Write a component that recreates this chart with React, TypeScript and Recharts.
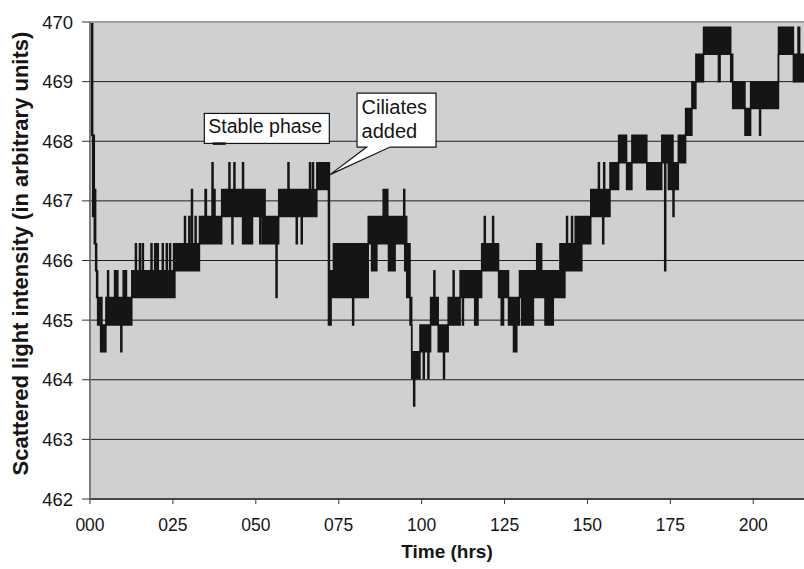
import {
  ComposedChart,
  Area,
  XAxis,
  YAxis,
  CartesianGrid,
  ReferenceDot,
  ReferenceLine,
} from "recharts";

// ─── Axes ────────────────────────────────────────────────────────────────────

const Y_TICKS = [462, 463, 464, 465, 466, 467, 468, 469, 470];
const X_TICKS = [0, 25, 50, 75, 100, 125, 150, 175, 200];
const X_TICK_LABELS = ["000", "025", "050", "075", "100", "125", "150", "175", "200"];

// ─── Signal ──────────────────────────────────────────────────────────────────
// Each row: [time (hrs), lowest level, highest level] held until the next row.
// The detector toggles between quantised levels, so the trace is a dense band.

const DECAY: [number, number, number][] = [
  [0, 468.1, 470.0],
  [0.8, 466.74, 468.1],
  [1.3, 466.28, 467.19],
  [1.7, 465.83, 466.28],
  [2.0, 465.38, 465.83],
];

const STABLE_PHASE: [number, number, number][] = [
  [2.3, 464.92, 465.38],
  [3.2, 464.47, 465.38],
  [3.6, 464.47, 464.92],
  [4.8, 464.92, 465.38],
  [5.3, 464.92, 465.83],
  [5.6, 464.92, 465.38],
  [7.4, 464.92, 465.83],
  [8.4, 464.92, 465.38],
  [9.3, 464.47, 465.38],
  [9.6, 464.92, 465.38],
  [10.0, 464.92, 465.83],
  [11.0, 464.92, 465.38],
  [12.6, 465.38, 465.83],
  [13.7, 465.38, 466.28],
  [14.0, 465.38, 465.83],
  [14.9, 465.38, 466.28],
  [15.2, 465.38, 465.83],
  [15.8, 465.38, 466.28],
  [16.1, 465.38, 465.83],
  [18.4, 465.38, 466.28],
  [18.7, 465.38, 465.83],
  [19.5, 465.38, 466.28],
  [19.8, 465.38, 465.83],
  [20.2, 465.38, 466.28],
  [20.6, 465.38, 465.83],
  [21.8, 465.38, 466.28],
  [22.1, 465.38, 465.83],
  [23.0, 465.38, 466.28],
  [23.3, 465.38, 465.83],
  [24.0, 465.38, 466.28],
  [24.3, 465.38, 465.83],
  [25.2, 465.38, 466.28],
  [25.6, 465.83, 466.28],
  [28.5, 465.83, 466.74],
  [28.8, 465.83, 466.28],
  [29.8, 465.83, 466.74],
  [30.1, 465.83, 466.28],
  [30.6, 465.83, 467.19],
  [30.9, 465.83, 466.28],
  [31.7, 465.83, 466.74],
  [32.0, 465.83, 466.28],
  [33.0, 466.28, 466.74],
  [34.7, 466.28, 467.19],
  [35.1, 466.28, 466.74],
  [36.8, 466.28, 467.64],
  [37.1, 466.28, 467.19],
  [37.7, 466.28, 466.74],
  [39.7, 466.74, 467.19],
  [41.9, 466.74, 467.64],
  [42.2, 466.74, 467.19],
  [42.8, 466.28, 467.19],
  [43.1, 466.74, 467.19],
  [43.4, 466.74, 467.64],
  [43.7, 466.74, 467.19],
  [46.0, 466.28, 467.64],
  [46.3, 466.28, 467.19],
  [49.0, 466.74, 467.19],
  [51.2, 466.28, 467.19],
  [51.5, 466.74, 467.19],
  [52.0, 466.28, 467.19],
  [52.8, 466.28, 466.74],
  [56.1, 465.38, 466.74],
  [56.4, 466.28, 466.74],
  [56.9, 466.74, 467.19],
  [59.7, 466.74, 467.64],
  [60.0, 466.74, 467.19],
  [62.2, 466.28, 467.19],
  [62.5, 466.74, 467.19],
  [63.7, 466.28, 467.19],
  [64.0, 466.74, 467.19],
  [66.2, 466.74, 467.64],
  [66.5, 466.74, 467.19],
  [67.1, 466.74, 467.64],
  [67.4, 466.74, 467.19],
  [68.4, 467.19, 467.64],
];

const CILIATE_PHASE: [number, number, number][] = [
  [71.9, 464.92, 467.64],
  [72.2, 465.38, 465.83],
  [72.4, 464.92, 465.83],
  [72.7, 465.38, 465.83],
  [73.4, 465.38, 466.28],
  [79.2, 464.92, 466.28],
  [79.5, 465.38, 466.28],
  [83.9, 466.28, 466.74],
  [84.9, 465.83, 466.74],
  [86.5, 466.28, 466.74],
  [88.4, 466.28, 467.19],
  [89.8, 466.28, 466.74],
  [90.0, 465.83, 466.74],
  [92.0, 466.28, 466.74],
  [94.6, 466.28, 467.19],
  [94.9, 465.83, 466.74],
  [95.5, 465.38, 466.28],
  [96.5, 464.92, 465.38],
  [97.0, 464.02, 464.47],
  [97.6, 463.56, 464.47],
  [97.9, 464.02, 464.47],
  [99.5, 464.47, 464.92],
  [100.5, 464.02, 464.92],
  [100.8, 464.47, 464.92],
  [101.9, 464.02, 464.92],
  [102.2, 464.47, 464.92],
  [102.7, 464.92, 465.38],
  [103.7, 464.92, 465.83],
  [104.0, 464.92, 465.38],
  [105.0, 464.47, 464.92],
  [106.6, 464.02, 464.92],
  [106.9, 464.47, 464.92],
  [108.0, 464.92, 465.38],
  [109.5, 464.92, 465.83],
  [109.8, 464.92, 465.38],
  [111.6, 465.38, 465.83],
  [112.3, 464.92, 465.83],
  [112.6, 465.38, 465.83],
  [116.0, 464.92, 465.83],
  [117.0, 465.38, 465.83],
  [118.1, 465.83, 466.28],
  [118.9, 465.83, 466.74],
  [119.2, 465.83, 466.28],
  [121.4, 465.83, 466.74],
  [121.7, 465.83, 466.28],
  [123.2, 465.38, 465.83],
  [124.0, 464.92, 465.83],
  [124.7, 465.38, 465.83],
  [126.2, 464.92, 465.38],
  [127.7, 464.47, 465.38],
  [128.7, 464.92, 465.38],
  [129.5, 465.38, 465.83],
  [130.2, 464.92, 465.83],
  [133.7, 465.38, 465.83],
  [134.7, 465.38, 466.28],
  [136.2, 465.38, 465.83],
  [137.2, 464.92, 465.83],
  [139.7, 465.38, 465.83],
  [141.7, 465.38, 466.28],
  [143.2, 465.83, 466.28],
  [143.7, 465.83, 466.74],
  [144.0, 465.83, 466.28],
  [145.2, 465.83, 466.74],
  [145.5, 465.83, 466.28],
  [146.3, 465.83, 466.74],
  [148.3, 466.28, 466.74],
];

const LATE_PHASE: [number, number, number][] = [
  [151.0, 466.74, 467.19],
  [153.3, 466.74, 467.64],
  [153.6, 466.74, 467.19],
  [154.6, 466.28, 467.19],
  [154.9, 466.74, 467.64],
  [155.2, 466.74, 467.19],
  [156.8, 467.19, 467.64],
  [159.4, 467.64, 468.1],
  [161.8, 467.19, 467.64],
  [163.4, 467.64, 468.1],
  [167.9, 467.19, 467.64],
  [172.4, 467.64, 468.1],
  [173.3, 465.83, 468.1],
  [173.6, 467.64, 468.1],
  [174.4, 467.19, 468.1],
  [175.8, 466.74, 467.64],
  [176.1, 467.19, 467.64],
  [177.4, 467.64, 468.1],
  [179.6, 468.1, 468.55],
  [181.5, 468.55, 469.0],
  [182.7, 469.0, 469.46],
  [185.0, 469.46, 469.91],
  [189.5, 469.0, 469.91],
  [190.0, 469.46, 469.91],
  [193.2, 469.0, 469.46],
  [193.8, 468.55, 469.0],
  [197.5, 468.1, 468.55],
  [199.2, 468.55, 469.0],
  [201.9, 468.1, 469.0],
  [202.2, 468.55, 469.0],
  [207.6, 469.46, 469.91],
  [212.1, 469.0, 469.46],
  [213.5, 469.0, 469.91],
  [214.0, 469.0, 469.46],
  [215.3, 469.0, 469.46],
];

const SIGNAL = [...DECAY, ...STABLE_PHASE, ...CILIATE_PHASE, ...LATE_PHASE].map(
  ([t, lo, hi]) => ({ t, band: [lo, hi] })
);

const INK = "#151515";
const Y_TITLE = "Scattered light intensity (in arbitrary units)";

// ─── Axis title ──────────────────────────────────────────────────────────────

function YTitle(props: { viewBox?: { x: number; y: number; width: number; height: number } }) {
  const vb = props.viewBox;
  if (!vb) return null;
  const x = 28;
  const y = vb.y + vb.height / 2 - 7;
  return (
    <text
      x={x}
      y={y}
      transform={`rotate(-90 ${x} ${y})`}
      textAnchor="middle"
      fontSize={22}
      fontWeight="bold"
      fill={INK}
    >
      {Y_TITLE}
    </text>
  );
}

// ─── Callouts ────────────────────────────────────────────────────────────────

function StablePhaseCallout({ cx, cy }: { cx?: number; cy?: number }) {
  if (cx == null || cy == null) return <g />;
  const left = cx - 9.7;
  const top = cy - 30.2;
  return (
    <g>
      <rect x={left} y={top} width={125} height={30} fill="#fff" stroke={INK} strokeWidth={1.2} />
      <text x={left + 4} y={top + 19.7} fontSize={19.5} fill={INK}>
        Stable phase
      </text>
      <line x1={cx - 1.3} y1={cy} x2={cx + 11.7} y2={cy} stroke={INK} strokeWidth={2.5} />
    </g>
  );
}

function CiliatesCallout({ cx, cy }: { cx?: number; cy?: number }) {
  if (cx == null || cy == null) return <g />;
  const left = cx + 27;
  const right = cx + 106;
  const top = cy - 81.6;
  const bottom = cy - 27.6;
  return (
    <g>
      <path
        d={`M${left},${top}H${right}V${bottom}H${cx + 60}L${cx},${cy}L${cx + 36.7},${bottom}H${left}Z`}
        fill="#fff"
        stroke={INK}
        strokeWidth={1.2}
      />
      <text x={left + 4.5} y={top + 20.5} fontSize={20} fill={INK}>
        Ciliates
      </text>
      <text x={left + 4.5} y={top + 44.5} fontSize={20} fill={INK}>
        added
      </text>
    </g>
  );
}

// ─── Main component ──────────────────────────────────────────────────────────

export default function App() {
  return (
    <div
      style={{
        position: "absolute",
        left: 0,
        top: 0,
        width: 804,
        height: 569,
        overflow: "hidden",
        background: "#fff",
        fontFamily: '"Liberation Sans", Arial, sans-serif',
      }}
    >
      <ComposedChart
        width={804}
        height={569}
        data={SIGNAL}
        margin={{ top: 22, right: 0, bottom: 0, left: 0 }}
      >
        <CartesianGrid
          vertical={false}
          stroke="#1e1e1e"
          strokeOpacity={1}
          fill="#cfd0d2"
          fillOpacity={1}
        />
        <ReferenceLine y={470} stroke="#a2a2a2" strokeWidth={2} />
        <XAxis
          dataKey="t"
          type="number"
          domain={[0, 215.3]}
          ticks={X_TICKS}
          tickFormatter={(v: number) => X_TICK_LABELS[X_TICKS.indexOf(v)] ?? String(v)}
          tick={{ fontSize: 17.5, fill: INK }}
          tickSize={5}
          tickMargin={15}
          axisLine={{ stroke: "#333", strokeWidth: 1.5 }}
          tickLine={{ stroke: "#333" }}
          height={70}
          allowDataOverflow
          label={{
            value: "Time (hrs)",
            position: "insideBottom",
            offset: 11,
            style: { fontSize: 19, fontWeight: "bold", fill: INK },
          }}
        />
        <YAxis
          type="number"
          domain={[462, 470]}
          ticks={Y_TICKS}
          tick={{ fontSize: 18.5, fill: INK }}
          tickSize={8}
          tickMargin={9}
          axisLine={{ stroke: "#7a7a7a", strokeWidth: 2 }}
          tickLine={{ stroke: "#333" }}
          width={90}
          allowDataOverflow
          label={<YTitle />}
        />
        <Area
          dataKey="band"
          type="stepAfter"
          stroke={INK}
          strokeWidth={1.5}
          fill={INK}
          fillOpacity={1}
          dot={false}
          activeDot={false}
          isAnimationActive={false}
        />
        <ReferenceDot x={37.4} y={467.96} r={0} shape={StablePhaseCallout} />
        <ReferenceDot x={72.38} y={467.44} r={0} shape={CiliatesCallout} />
      </ComposedChart>
    </div>
  );
}
